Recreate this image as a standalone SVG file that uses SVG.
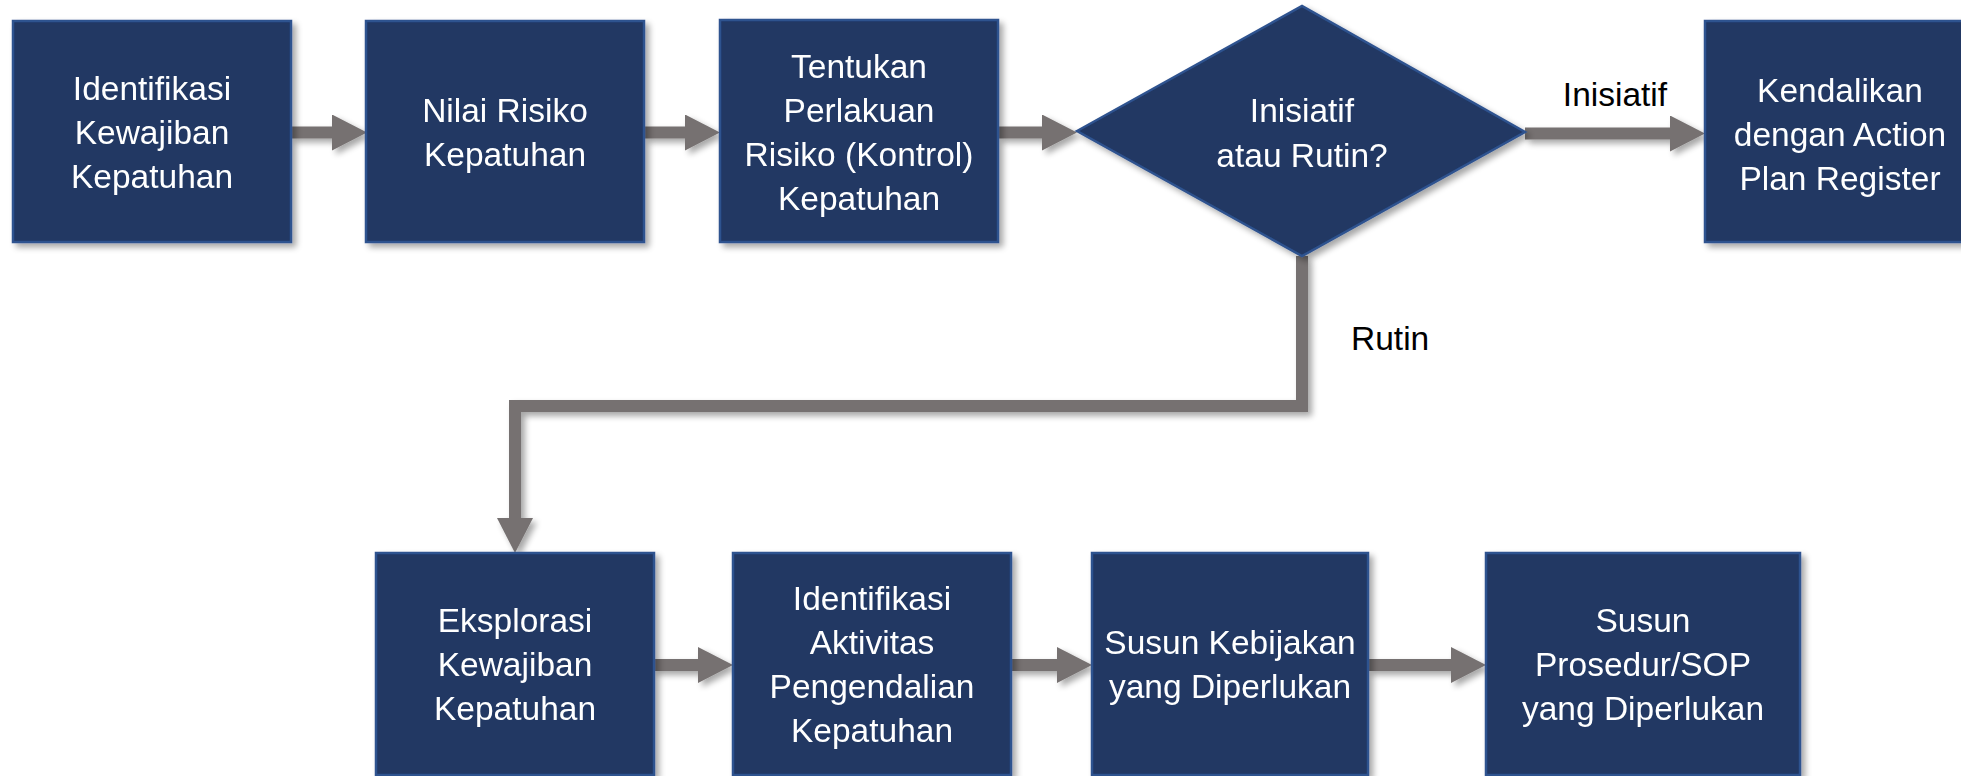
<svg xmlns="http://www.w3.org/2000/svg" width="1961" height="776" viewBox="0 0 1961 776">
  <style>
    .box { fill: #203864; stroke: #2F528F; stroke-width: 2.5; }
    .lbl { font-family: "Liberation Sans", Arial, sans-serif; font-size: 33.5px; fill: #ffffff; text-anchor: middle; }
    .edge-lbl { font-family: "Liberation Sans", Arial, sans-serif; font-size: 33.5px; fill: #000000; }
    .conn { fill: none; stroke: #767171; stroke-width: 12; marker-end: url(#head); }
  </style>
  <defs>
    <filter id="shadow" x="-10%" y="-10%" width="130%" height="130%">
      <feGaussianBlur in="SourceAlpha" stdDeviation="3"/>
      <feOffset dx="4" dy="4" result="blur"/>
      <feComponentTransfer><feFuncA type="linear" slope="0.35"/></feComponentTransfer>
      <feMerge><feMergeNode/><feMergeNode in="SourceGraphic"/></feMerge>
    </filter>
    <marker id="head" viewBox="0 0 35 36" markerWidth="35" markerHeight="36" markerUnits="userSpaceOnUse" refX="0" refY="18" orient="auto">
      <path d="M0,0 L35,18 L0,36 Z" fill="#767171"/>
    </marker>
  </defs>
  <rect width="1961" height="776" fill="#ffffff"/>

  <!-- connectors -->
  <g id="connectors" filter="url(#shadow)">
    <path class="conn" d="M291,132.5 H332"/>
    <path class="conn" d="M644,132.5 H685"/>
    <path class="conn" d="M998,132.5 H1042"/>
    <path class="conn" d="M1525,133.5 H1670"/>
    <path class="conn" d="M1302,256 V406 H515 V518"/>
    <path class="conn" d="M653,665 H698"/>
    <path class="conn" d="M1011,665 H1057"/>
    <path class="conn" d="M1368,665 H1451"/>
  </g>
  <g id="edge-labels">
    <text class="edge-lbl" x="1615" y="106" text-anchor="middle">Inisiatif</text>
    <text class="edge-lbl" x="1351" y="350">Rutin</text>
  </g>

  <!-- top row -->
  <g id="identifikasi-kewajiban" filter="url(#shadow)">
    <rect class="box" x="13" y="21" width="278" height="221"/>
    <text class="lbl" x="152" y="99.5">Identifikasi</text>
    <text class="lbl" x="152" y="143.5">Kewajiban</text>
    <text class="lbl" x="152" y="187.5">Kepatuhan</text>
  </g>
  <g id="nilai-risiko" filter="url(#shadow)">
    <rect class="box" x="366" y="21" width="278" height="221"/>
    <text class="lbl" x="505" y="121.5">Nilai Risiko</text>
    <text class="lbl" x="505" y="165.5">Kepatuhan</text>
  </g>
  <g id="tentukan-perlakuan" filter="url(#shadow)">
    <rect class="box" x="720" y="20" width="278" height="222"/>
    <text class="lbl" x="859" y="77.5">Tentukan</text>
    <text class="lbl" x="859" y="121.5">Perlakuan</text>
    <text class="lbl" x="859" y="165.5">Risiko (Kontrol)</text>
    <text class="lbl" x="859" y="209.5">Kepatuhan</text>
  </g>
  <g id="inisiatif-atau-rutin" filter="url(#shadow)">
    <polygon class="box" points="1077,131 1302,6 1525,132 1302,256"/>
    <text class="lbl" x="1302" y="122">Inisiatif</text>
    <text class="lbl" x="1302" y="167">atau Rutin?</text>
  </g>
  <g id="kendalikan-action-plan" filter="url(#shadow)">
    <rect class="box" x="1705" y="21" width="278" height="221"/>
    <text class="lbl" x="1840" y="102">Kendalikan</text>
    <text class="lbl" x="1840" y="146">dengan Action</text>
    <text class="lbl" x="1840" y="190">Plan Register</text>
  </g>

  <!-- bottom row -->
  <g id="eksplorasi-kewajiban" filter="url(#shadow)">
    <rect class="box" x="376" y="553" width="278" height="222"/>
    <text class="lbl" x="515" y="632">Eksplorasi</text>
    <text class="lbl" x="515" y="676">Kewajiban</text>
    <text class="lbl" x="515" y="720">Kepatuhan</text>
  </g>
  <g id="identifikasi-aktivitas" filter="url(#shadow)">
    <rect class="box" x="733" y="553" width="278" height="222"/>
    <text class="lbl" x="872" y="610">Identifikasi</text>
    <text class="lbl" x="872" y="654">Aktivitas</text>
    <text class="lbl" x="872" y="698">Pengendalian</text>
    <text class="lbl" x="872" y="742">Kepatuhan</text>
  </g>
  <g id="susun-kebijakan" filter="url(#shadow)">
    <rect class="box" x="1092" y="553" width="276" height="222"/>
    <text class="lbl" x="1230" y="654">Susun Kebijakan</text>
    <text class="lbl" x="1230" y="698">yang Diperlukan</text>
  </g>
  <g id="susun-prosedur" filter="url(#shadow)">
    <rect class="box" x="1486" y="553" width="314" height="222"/>
    <text class="lbl" x="1643" y="632">Susun</text>
    <text class="lbl" x="1643" y="676">Prosedur/SOP</text>
    <text class="lbl" x="1643" y="720">yang Diperlukan</text>
  </g>
</svg>
